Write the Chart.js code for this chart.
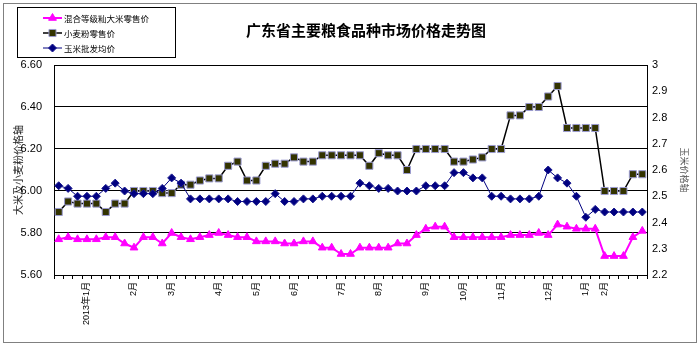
<!DOCTYPE html>
<html><head><meta charset="utf-8">
<script src="https://cdn.jsdelivr.net/npm/chart.js@4.4.1/dist/chart.umd.min.js"></script>
<style>html,body{margin:0;padding:0;background:#fff;} #wrap{width:700px;height:351px;position:relative;}</style>
</head><body><div id="wrap"><canvas id="c" width="700" height="351"></canvas></div>
<script>
const chartTitle = '广东省主要粮食品种市场价格走势图';
const leftAxisTitle = '大米及小麦粉价格轴';
const rightAxisTitle = '玉米价格轴';
const seriesNames = ['混合等级籼大米零售价', '小麦粉零售价', '玉米批发均价'];

const categories = [
  '', '', '', '2013年1月', '', '', '', '',
  '2月', '', '', '',
  '3月', '', '', '', '',
  '4月', '', '', '',
  '5月', '', '', '',
  '6月', '', '', '', '',
  '7月', '', '', '',
  '8月', '', '', '', '',
  '9月', '', '', '',
  '10月', '', '', '',
  '11月', '', '', '', '',
  '12月', '', '', '',
  '1月', '',
  '2月', '', '', '', ''
];

const riceRetail = [
  5.77,5.78,5.77,5.77,5.77,5.78,5.78,5.75,5.73,5.78,
  5.78,5.75,5.80,5.78,5.77,5.78,5.79,5.80,5.79,5.78,
  5.78,5.76,5.76,5.76,5.75,5.75,5.76,5.76,5.73,5.73,
  5.70,5.70,5.73,5.73,5.73,5.73,5.75,5.75,5.79,5.82,
  5.83,5.83,5.78,5.78,5.78,5.78,5.78,5.78,5.79,5.79,
  5.79,5.80,5.79,5.84,5.83,5.82,5.82,5.82,5.69,5.69,
  5.69,5.78,5.81
];
const flourRetail = [
  5.90,5.95,5.94,5.94,5.94,5.90,5.94,5.94,6.00,6.00,
  6.00,5.99,5.99,6.03,6.03,6.05,6.06,6.06,6.12,6.14,
  6.05,6.05,6.12,6.13,6.13,6.16,6.14,6.14,6.17,6.17,
  6.17,6.17,6.17,6.12,6.18,6.17,6.17,6.10,6.20,6.20,
  6.20,6.20,6.14,6.14,6.15,6.16,6.20,6.20,6.36,6.36,
  6.40,6.40,6.45,6.50,6.30,6.30,6.30,6.30,6.00,6.00,
  6.00,6.08,6.08
];
const cornWholesale = [
  2.54,2.53,2.50,2.50,2.50,2.53,2.55,2.52,2.51,2.51,
  2.51,2.53,2.57,2.55,2.49,2.49,2.49,2.49,2.49,2.48,
  2.48,2.48,2.48,2.51,2.48,2.48,2.49,2.49,2.50,2.50,
  2.50,2.50,2.55,2.54,2.53,2.53,2.52,2.52,2.52,2.54,
  2.54,2.54,2.59,2.59,2.57,2.57,2.50,2.50,2.49,2.49,
  2.49,2.50,2.60,2.57,2.55,2.50,2.42,2.45,2.44,2.44,
  2.44,2.44,2.44
];

const latin = '"Liberation Sans", "Noto Sans CJK SC", sans-serif';
const cjk = '"Noto Sans CJK SC", "Liberation Sans", sans-serif';

function drawMarker(ctx, style, x, y, r, fill, stroke) {
  ctx.save();
  ctx.fillStyle = fill; ctx.strokeStyle = stroke; ctx.lineWidth = 1;
  ctx.beginPath();
  if (style === 'triangle') {
    for (let k = 0; k < 3; k++) {
      const a = k * 2 * Math.PI / 3;
      const px = x + Math.sin(a) * r, py = y - Math.cos(a) * r;
      if (k === 0) ctx.moveTo(px, py); else ctx.lineTo(px, py);
    }
    ctx.closePath();
  } else if (style === 'rect') {
    const s = Math.SQRT1_2 * r;
    ctx.rect(x - s, y - s, 2 * s, 2 * s);
  } else {
    ctx.moveTo(x - r, y); ctx.lineTo(x, y - r); ctx.lineTo(x + r, y); ctx.lineTo(x, y + r); ctx.closePath();
  }
  ctx.fill(); ctx.stroke();
  ctx.restore();
}

const decor = {
  id: 'decor',
  beforeDraw(chart) {
    const ctx = chart.ctx;
    ctx.save();
    ctx.fillStyle = '#fff';
    ctx.fillRect(0, 0, chart.width, chart.height);
    ctx.strokeStyle = '#808080';
    ctx.lineWidth = 1;
    ctx.strokeRect(3.5, 3.5, 693, 339);
    ctx.restore();
  },
  afterDraw(chart) {
    const ctx = chart.ctx;
    ctx.save();
    ctx.fillStyle = '#000';
    ctx.font = 'bold 15px ' + cjk;
    ctx.textAlign = 'center';
    ctx.textBaseline = 'middle';
    ctx.fillText(chartTitle, 366, 30);
    // legend
    ctx.strokeStyle = '#000';
    ctx.lineWidth = 1;
    ctx.fillStyle = '#fff';
    ctx.fillRect(17.5, 7.5, 158, 50);
    ctx.strokeRect(17.5, 7.5, 158, 50);
    ctx.font = '8.5px ' + cjk;
    ctx.textAlign = 'left';
    chart.data.datasets.forEach((ds, i) => {
      const y = 18 + i * 15;
      ctx.strokeStyle = ds.borderColor;
      ctx.lineWidth = ds.borderWidth;
      ctx.beginPath(); ctx.moveTo(43, y); ctx.lineTo(62, y); ctx.stroke();
      drawMarker(ctx, ds.pointStyle, 52.5, y, ds.pointRadius, ds.pointBackgroundColor, ds.pointBorderColor);
      ctx.fillStyle = '#000';
      ctx.fillText(ds.label, 64, y + 0.5);
    });
    ctx.restore();
  }
};

new Chart(document.getElementById('c'), {
  type: 'line',
  data: {
    labels: categories,
    datasets: [
      { label: seriesNames[0], data: riceRetail, yAxisID: 'y', order: 0,
        borderColor: '#FF00FF', borderWidth: 2, pointStyle: 'triangle', pointRadius: 4.5,
        pointBackgroundColor: '#FF00FF', pointBorderColor: '#FF00FF', pointBorderWidth: 1, tension: 0 },
      { label: seriesNames[1], data: flourRetail, yAxisID: 'y', order: 2,
        borderColor: '#000000', borderWidth: 1.5, pointStyle: 'rect', pointRadius: 5,
        pointBackgroundColor: '#333300', pointBorderColor: '#9a9ad0', pointBorderWidth: 1, tension: 0 },
      { label: seriesNames[2], data: cornWholesale, yAxisID: 'y2', order: 1,
        borderColor: '#000080', borderWidth: 1, pointStyle: 'rectRot', pointRadius: 4,
        pointBackgroundColor: '#000080', pointBorderColor: '#1a1a90', pointBorderWidth: 1, tension: 0 }
    ]
  },
  options: {
    responsive: false,
    animation: false,
    devicePixelRatio: 1,
    layout: { padding: { top: 65, left: 0, right: 0, bottom: 0 } },
    plugins: { legend: { display: false }, title: { display: false }, tooltip: { enabled: false } },
    scales: {
      x: {
        type: 'category', offset: true,
        grid: { offset: true, drawOnChartArea: false, drawTicks: true, tickLength: 4, color: '#000' },
        border: { color: '#000', width: 1 },
        ticks: { autoSkip: false, maxRotation: 90, minRotation: 90, padding: 3, color: '#000',
          font: { size: 9, family: latin } },
        afterFit(s) { s.height = 76; }
      },
      y: {
        position: 'left', min: 5.6, max: 6.6,
        ticks: { stepSize: 0.2, callback: v => Number(v).toFixed(2), padding: 12, color: '#000',
          font: { size: 11, family: latin } },
        grid: { color: '#000', drawTicks: false },
        border: { color: '#000' },
        title: { display: true, text: leftAxisTitle, color: '#222',
          font: { size: 10, family: cjk }, padding: { top: 12, bottom: 0 } },
        afterFit(s) { s.width = 54; }
      },
      y2: {
        position: 'right', min: 2.2, max: 3,
        ticks: { stepSize: 0.1, callback: v => String(+Number(v).toFixed(1)), padding: 5, color: '#000',
          font: { size: 11, family: latin } },
        grid: { drawOnChartArea: false, drawTicks: false },
        border: { color: '#000' },
        title: { display: true, text: rightAxisTitle, color: '#555',
          font: { size: 9, family: cjk }, padding: { top: 10, bottom: 0 } },
        afterFit(s) { s.width = 53; }
      }
    }
  },
  plugins: [decor]
});
</script>
</body></html>
